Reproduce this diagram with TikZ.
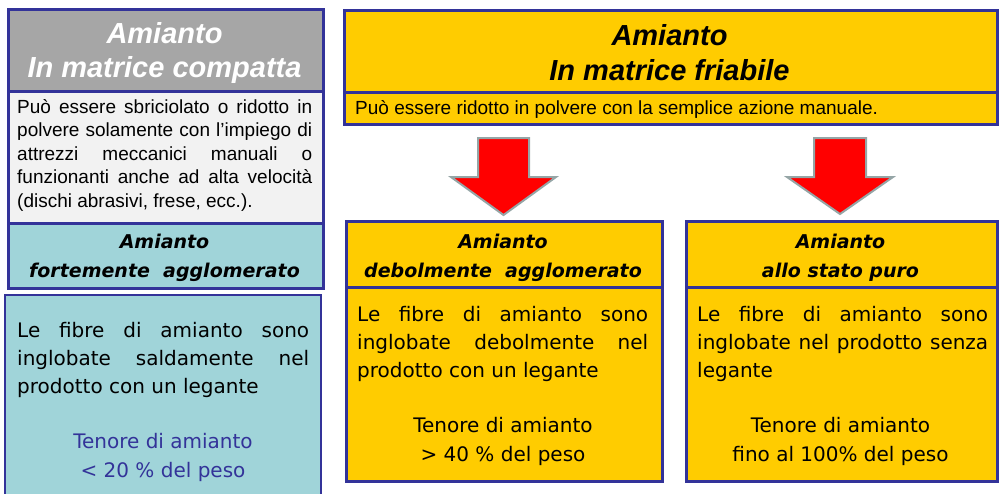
\documentclass[tikz,border=0pt]{standalone}
\usepackage{fontspec}
\setmainfont{Liberation Sans}
\newfontfamily\verd{DejaVu Sans}[ItalicFont={DejaVu Sans Oblique},BoldFont={DejaVu Sans Bold},BoldItalicFont={DejaVu Sans Bold Oblique}]
\definecolor{bblue}{HTML}{333399}
\definecolor{hgrey}{HTML}{A6A6A6}
\definecolor{lgrey}{HTML}{F2F2F2}
\definecolor{teal1}{HTML}{A0D4D9}
\definecolor{ygold}{HTML}{FFCC00}
\definecolor{arrgrey}{HTML}{95A5A6}
\newcommand{\jline}[2]{\makebox[#1][s]{#2}}
\begin{document}
\begin{tikzpicture}[x=1pt,y=-1pt,
 panel/.style={draw=bblue,line width=2.6pt,inner sep=0pt,anchor=north west},
 txt/.style={inner sep=0pt,anchor=base west},
 ctxt/.style={inner sep=0pt,anchor=base},
 hdA/.style={ctxt,font=\fontsize{29}{33}\selectfont\bfseries\itshape},
 hdB/.style={ctxt,font=\verd\fontsize{19}{24}\selectfont\bfseries\itshape},
 bodyA/.style={txt,font=\fontsize{19}{23}\selectfont},
 bodyB/.style={txt,font=\verd\fontsize{20}{28}\selectfont},
 bodyBc/.style={ctxt,font=\verd\fontsize{20}{28}\selectfont},
 blockarrow/.style={fill=red,draw=arrgrey,line width=2pt,line join=miter}]
\useasboundingbox (0,0) rectangle (999,493);

% ---- left column: compact matrix
\node[panel,fill=hgrey,minimum width=315pt,minimum height=82pt] (cH) at (7,8) {};
\node[panel,fill=lgrey,minimum width=315pt,minimum height=132pt] (cB) at (7,90) {};
\node[panel,fill=teal1,minimum width=315pt,minimum height=65pt] (cT) at (7,222) {};
\fill[teal1] (5,295) rectangle (321,494);
\draw[bblue,line width=2.6pt] (5,497) -- (5,295) -- (321,295) -- (321,497);

\node[hdA,text=white] (cH1) at (164.5,43) {Amianto};
\node[hdA,text=white] (cH2) at (164.5,77) {In matrice compatta};

\node[bodyA] (cB1) at (17,113) {\jline{295pt}{Può essere sbriciolato o ridotto in}};
\node[bodyA] (cB2) at (17,136.5) {\jline{295pt}{polvere solamente con l’impiego di}};
\node[bodyA] (cB3) at (17,160) {\jline{295pt}{attrezzi meccanici manuali o}};
\node[bodyA] (cB4) at (17,183.5) {\jline{295pt}{funzionanti anche ad alta velocità}};
\node[bodyA] (cB5) at (17,207) {(dischi abrasivi, frese, ecc.).};

\node[hdB] (cT1) at (164.5,248) {Amianto};
\node[hdB] (cT2) at (164.5,277) {fortemente\ \ agglomerato};

\node[bodyB] (cL1) at (17,337) {\jline{292pt}{Le fibre di amianto sono}};
\node[bodyB] (cL2) at (17,365) {\jline{292pt}{inglobate saldamente nel}};
\node[bodyB] (cL3) at (17,393) {prodotto con un legante};
\node[bodyBc,text=bblue] (cL4) at (163,448) {Tenore di amianto};
\node[bodyBc,text=bblue] (cL5) at (163,477) {< 20 \% del peso};

% ---- top right: friable matrix
\node[panel,fill=ygold,minimum width=653pt,minimum height=82pt] (fH) at (343,9) {};
\node[panel,fill=ygold,minimum width=653pt,minimum height=32pt] (fB) at (343,91) {};
\node[hdA] (fH1) at (669.5,45) {Amianto};
\node[hdA] (fH2) at (669.5,80) {In matrice friabile};
\node[bodyA] (fB1) at (355,114) {Può essere ridotto in polvere con la semplice azione manuale.};

% ---- arrows
\draw[blockarrow] (478,138) -- (529,138) -- (529,177) -- (556,177) -- (503.5,215) -- (451,177) -- (478,177) -- cycle;
\draw[blockarrow] (814,138) -- (866,138) -- (866,177) -- (893,177) -- (840,214) -- (787,177) -- (814,177) -- cycle;

% ---- middle: weakly agglomerated
\node[panel,fill=ygold,minimum width=316pt,minimum height=66pt] (dH) at (345,220) {};
\node[panel,fill=ygold,minimum width=316pt,minimum height=194pt] (dB) at (345,286) {};
\node[hdB] (dH1) at (503,248) {Amianto};
\node[hdB] (dH2) at (503,277) {debolmente\ \ agglomerato};
\node[bodyB] (dL1) at (357,321) {\jline{291pt}{Le fibre di amianto sono}};
\node[bodyB] (dL2) at (357,349) {\jline{291pt}{inglobate debolmente nel}};
\node[bodyB] (dL3) at (357,377) {prodotto con un legante};
\node[bodyBc] (dL4) at (503,432) {Tenore di amianto};
\node[bodyBc] (dL5) at (503,461) {> 40 \% del peso};

% ---- right: pure state
\node[panel,fill=ygold,minimum width=311pt,minimum height=66pt] (pH) at (685,220) {};
\node[panel,fill=ygold,minimum width=311pt,minimum height=194pt] (pB) at (685,286) {};
\node[hdB] (pH1) at (840.5,248) {Amianto};
\node[hdB] (pH2) at (840.5,277) {allo stato puro};
\node[bodyB] (pL1) at (697,321) {\jline{291pt}{Le fibre di amianto sono}};
\node[bodyB] (pL2) at (697,349) {\jline{291pt}{inglobate nel prodotto senza}};
\node[bodyB] (pL3) at (697,377) {legante};
\node[bodyBc] (pL4) at (840.5,432) {Tenore di amianto};
\node[bodyBc] (pL5) at (840.5,461) {fino al 100\% del peso};
\end{tikzpicture}
\end{document}
